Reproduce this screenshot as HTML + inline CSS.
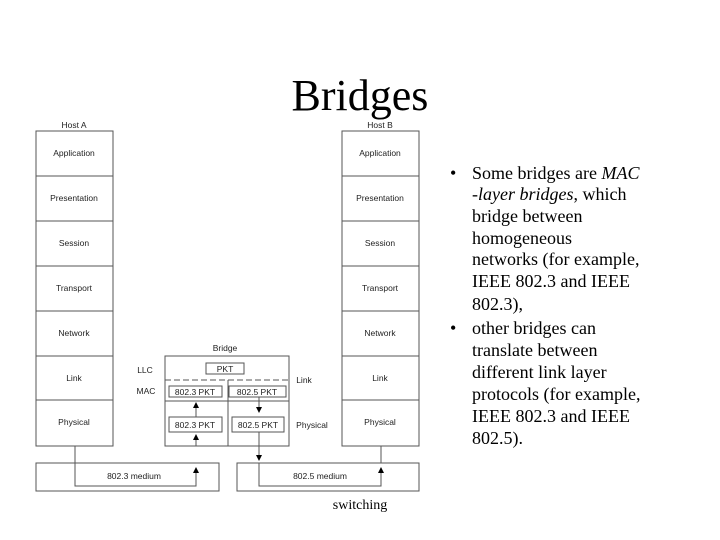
<!DOCTYPE html>
<html><head><style>
html,body{margin:0;padding:0;background:#fff;}
svg{display:block;}
</style></head><body>
<svg width="720" height="540" xmlns="http://www.w3.org/2000/svg">
<defs><marker id="a" markerWidth="6" markerHeight="6" refX="3" refY="3" orient="auto"><path d="M0,0 L6,3 L0,6 z" fill="#000"/></marker></defs>
<text x="360" y="110" font-family="Liberation Serif, serif" font-size="44" text-anchor="middle">Bridges</text>
<g font-family="Liberation Sans, sans-serif" font-size="8.5" text-anchor="middle" fill="#222">
<text x="74" y="128">Host A</text><text x="380" y="128">Host B</text>
<g fill="none" stroke="#555" stroke-width="1">
<rect x="36" y="131" width="77" height="315"/>
<rect x="342" y="131" width="77" height="315"/>
<path d="M36 176H113M36 221H113M36 266H113M36 311H113M36 356H113M36 400H113"/>
<path d="M342 176H419M342 221H419M342 266H419M342 311H419M342 356H419M342 400H419"/>
<rect x="165" y="356" width="124" height="90"/>
<path d="M165 380H289" stroke-dasharray="6,3"/>
<path d="M228 380V446M165 401H289"/>
<rect x="206" y="363" width="38" height="11"/>
<rect x="169" y="386" width="53" height="11"/>
<rect x="229" y="386" width="57" height="11"/>
<rect x="169" y="417" width="53" height="15"/>
<rect x="232" y="417" width="52" height="15"/>
<rect x="36" y="463" width="183" height="28"/>
<rect x="237" y="463" width="182" height="28"/>
<path d="M75 446V486H196V470" marker-end="url(#a)"/>
<path d="M196 446V437" marker-end="url(#a)"/><path d="M196 417V405" marker-end="url(#a)"/>
<path d="M259 397V410" marker-end="url(#a)"/>
<path d="M259 432V458" marker-end="url(#a)"/>
<path d="M259 463V486H381V470" marker-end="url(#a)"/>
<path d="M381 463V446"/>
</g>
<text x="74" y="156">Application</text><text x="74" y="201">Presentation</text><text x="74" y="246">Session</text><text x="74" y="291">Transport</text><text x="74" y="336">Network</text><text x="74" y="381">Link</text><text x="74" y="425">Physical</text>
<text x="380" y="156">Application</text><text x="380" y="201">Presentation</text><text x="380" y="246">Session</text><text x="380" y="291">Transport</text><text x="380" y="336">Network</text><text x="380" y="381">Link</text><text x="380" y="425">Physical</text>
<text x="225" y="351">Bridge</text>
<text x="145" y="373">LLC</text><text x="146" y="394">MAC</text>
<text x="304" y="383">Link</text><text x="312" y="428">Physical</text>
<text x="225" y="372">PKT</text>
<text x="195" y="395">802.3  PKT</text><text x="257" y="395">802.5  PKT</text>
<text x="195" y="428">802.3  PKT</text><text x="258" y="428">802.5  PKT</text>
<text x="134" y="479">802.3 medium</text><text x="320" y="479">802.5 medium</text>
</g>
<text x="360" y="509" font-family="Liberation Serif, serif" font-size="14" text-anchor="middle">switching</text>
<g font-family="Liberation Serif, serif" font-size="18" fill="#000">
<text x="450" y="179">•</text>
<text x="472" y="179">Some bridges are <tspan font-style="italic">MAC</tspan></text>
<text x="472" y="200"><tspan font-style="italic">-layer bridges</tspan>, which</text>
<text x="472" y="222">bridge between</text>
<text x="472" y="244">homogeneous</text>
<text x="472" y="265">networks (for example,</text>
<text x="472" y="287">IEEE 802.3 and IEEE</text>
<text x="472" y="310">802.3),</text>
<text x="450" y="334">•</text>
<text x="472" y="334">other bridges can</text>
<text x="472" y="356">translate between</text>
<text x="472" y="378">different link layer</text>
<text x="472" y="400">protocols (for example,</text>
<text x="472" y="422">IEEE 802.3 and IEEE</text>
<text x="472" y="444">802.5).</text>
</g>
</svg>
</body></html>
